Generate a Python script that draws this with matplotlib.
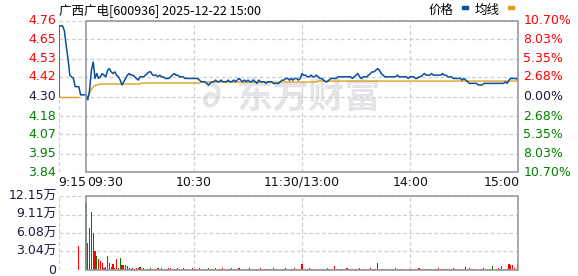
import matplotlib
matplotlib.use("Agg")
import matplotlib.pyplot as plt
from matplotlib.patches import Rectangle

plt.rcParams['font.family'] = ['DejaVu Sans', 'Noto Sans CJK SC']

# ---- data ----
title = "广西广电[600936] 2025-12-22 15:00"
pre_close = 4.30
price_ticks = [4.76, 4.65, 4.53, 4.42, 4.30, 4.18, 4.07, 3.95, 3.84]
pct_labels = ["10.70%", "8.03%", "5.35%", "2.68%", "0.00%", "2.68%", "5.35%", "8.03%", "10.70%"]
vol_ticks = [12.15, 9.11, 6.08, 3.04, 0]
vol_labels = ["12.15万", "9.11万", "6.08万", "3.04万", "0"]
time_labels = ["9:15", "09:30", "10:30", "11:30/13:00", "14:00", "15:00"]

# call auction 9:15-9:30 (minutes before open, negative)
auction_t = [-15, -15, -14, -13, -12, -11, -10, -9, -8, -7, -6, -5, -4, -3, -2, -1, 0]
auction_p = [4.30, 4.73, 4.73, 4.73, 4.70, 4.61, 4.53, 4.43, 4.42, 4.41, 4.36, 4.36, 4.36,
             4.31, 4.31, 4.31, 4.31]
auction_avg_t = [-15, -4.5]
auction_avg_p = [4.30, 4.30]
auction_vol_t = [-4.3]
auction_vol = [3.94]

# trading minutes 0..240 (9:30-11:30, 13:00-15:00)
price = [
    4.31, 4.28, 4.34, 4.46, 4.51, 4.41, 4.44, 4.41, 4.42, 4.44,
    4.43, 4.42, 4.46, 4.47, 4.45, 4.44, 4.45, 4.43, 4.42, 4.40,
    4.37, 4.39, 4.41, 4.43, 4.44, 4.43, 4.43, 4.42, 4.41, 4.40,
    4.42, 4.42, 4.42, 4.43, 4.44, 4.45, 4.45, 4.43, 4.43, 4.43,
    4.42, 4.43, 4.42, 4.42, 4.41, 4.41, 4.41, 4.42, 4.43, 4.44,
    4.43, 4.43, 4.42, 4.42, 4.42, 4.41, 4.41, 4.41, 4.41, 4.41,
    4.41, 4.41, 4.41, 4.40, 4.39, 4.39, 4.39, 4.38, 4.37, 4.38,
    4.39, 4.39, 4.40, 4.39, 4.39, 4.40, 4.39, 4.39, 4.39, 4.40,
    4.39, 4.39, 4.40, 4.39, 4.40, 4.41, 4.40, 4.39, 4.40, 4.39,
    4.40, 4.39, 4.39, 4.40, 4.39, 4.38, 4.40, 4.39, 4.39, 4.39,
    4.38, 4.39, 4.39, 4.39, 4.38, 4.38, 4.38, 4.38, 4.39, 4.40,
    4.40, 4.41, 4.41, 4.40, 4.41, 4.40, 4.41, 4.41, 4.40, 4.41,
    4.44, 4.43, 4.43, 4.42, 4.42, 4.43, 4.42, 4.42, 4.43, 4.42,
    4.41, 4.41, 4.40, 4.39, 4.39, 4.40, 4.41, 4.41, 4.41, 4.41,
    4.42, 4.42, 4.42, 4.42, 4.42, 4.42, 4.42, 4.42, 4.41, 4.42,
    4.43, 4.44, 4.42, 4.41, 4.42, 4.42, 4.42, 4.43, 4.44, 4.45,
    4.45, 4.46, 4.47, 4.46, 4.44, 4.43, 4.42, 4.42, 4.42, 4.42,
    4.42, 4.42, 4.42, 4.43, 4.42, 4.42, 4.42, 4.42, 4.42, 4.41,
    4.42, 4.42, 4.42, 4.41, 4.41, 4.42, 4.42, 4.43, 4.44, 4.43,
    4.43, 4.43, 4.44, 4.43, 4.43, 4.43, 4.43, 4.43, 4.44, 4.43,
    4.43, 4.42, 4.42, 4.42, 4.41, 4.41, 4.41, 4.41, 4.41, 4.40,
    4.41, 4.40, 4.39, 4.38, 4.38, 4.38, 4.38, 4.38, 4.37, 4.37,
    4.37, 4.38, 4.38, 4.38, 4.38, 4.38, 4.38, 4.38, 4.38, 4.38,
    4.38, 4.38, 4.38, 4.39, 4.38, 4.40, 4.41, 4.41, 4.41, 4.41,
    4.40,
]

avg_price = [
    4.285, 4.290, 4.320, 4.345, 4.360, 4.367, 4.370, 4.373, 4.375, 4.376,
    4.376, 4.376, 4.376, 4.376, 4.376, 4.376, 4.376, 4.376, 4.376, 4.376,
    4.376, 4.376, 4.376, 4.376, 4.376, 4.376, 4.376, 4.376, 4.376, 4.376,
    4.377, 4.382, 4.382, 4.382, 4.382, 4.382, 4.382, 4.382, 4.382, 4.382,
    4.382, 4.382, 4.382, 4.382, 4.382, 4.382, 4.382, 4.382, 4.382, 4.382,
    4.382, 4.382, 4.382, 4.382, 4.382, 4.382, 4.382, 4.382, 4.382, 4.382,
    4.382, 4.382, 4.382, 4.382, 4.388, 4.388, 4.388, 4.388, 4.388, 4.388,
    4.388, 4.388, 4.388, 4.388, 4.388, 4.388, 4.388, 4.388, 4.388, 4.388,
    4.388, 4.388, 4.388, 4.388, 4.388, 4.388, 4.388, 4.388, 4.388, 4.388,
    4.388, 4.388, 4.388, 4.388, 4.388, 4.388, 4.388, 4.388, 4.388, 4.388,
    4.388, 4.388, 4.388, 4.388, 4.388, 4.388, 4.388, 4.388, 4.388, 4.388,
    4.388, 4.388, 4.388, 4.388, 4.388, 4.388, 4.388, 4.388, 4.388, 4.388,
    4.388, 4.388, 4.388, 4.388, 4.388, 4.388, 4.388, 4.388, 4.388, 4.394,
    4.394, 4.394, 4.394, 4.394, 4.394, 4.394, 4.394, 4.394, 4.394, 4.394,
    4.394, 4.394, 4.394, 4.394, 4.394, 4.394, 4.394, 4.394, 4.394, 4.394,
    4.394, 4.394, 4.394, 4.394, 4.394, 4.394, 4.394, 4.394, 4.394, 4.394,
    4.394, 4.394, 4.394, 4.394, 4.394, 4.394, 4.394, 4.394, 4.394, 4.394,
    4.394, 4.394, 4.394, 4.394, 4.394, 4.394, 4.394, 4.394, 4.394, 4.394,
    4.394, 4.394, 4.394, 4.394, 4.394, 4.394, 4.394, 4.394, 4.394, 4.394,
    4.394, 4.394, 4.394, 4.394, 4.394, 4.394, 4.394, 4.394, 4.394, 4.394,
    4.394, 4.394, 4.394, 4.394, 4.394, 4.394, 4.394, 4.394, 4.394, 4.394,
    4.394, 4.394, 4.394, 4.394, 4.394, 4.394, 4.394, 4.394, 4.394, 4.394,
    4.394, 4.394, 4.394, 4.394, 4.394, 4.394, 4.394, 4.394, 4.394, 4.394,
    4.394, 4.394, 4.394, 4.394, 4.394, 4.394, 4.394, 4.394, 4.394, 4.394,
    4.394,
]

# volume in 万 shares per minute
volume = [
    11.2, 4.5, 6.9, 9.5, 6.1, 3.1, 2.3, 1.8, 1.5, 1.1,
    0.30, 0.45, 2.3, 1.1, 0.55, 1.0, 0.30, 1.8, 0.30, 1.9,
    0.80, 0.90, 0.75, 0.65, 0.25, 0.20, 0.25, 0.20, 0.25, 0.30,
    0.44, 0.20, 0.25, 0.20, 0.15, 0.20, 0.25, 0.20, 0.15, 0.20,
    0.30, 0.20, 0.25, 0.15, 0.20, 0.20, 0.25, 0.30, 0.20, 0.15,
    0.20, 0.25, 0.20, 0.15, 0.30, 0.20, 0.20, 0.15, 0.20, 0.25,
    0.20, 0.15, 0.20, 0.25, 0.20, 0.15, 0.20, 0.20, 0.25, 0.20,
    0.15, 0.20, 0.30, 0.20, 0.15, 0.20, 0.25, 0.20, 0.15, 0.20,
    0.20, 0.25, 0.15, 0.20, 0.20, 0.25, 0.15, 0.20, 0.20, 0.15,
    0.20, 0.25, 0.20, 0.15, 0.20, 0.20, 0.15, 0.25, 0.20, 0.15,
    0.20, 0.20, 0.15, 0.20, 0.25, 0.20, 0.15, 0.20, 0.20, 0.15,
    0.20, 0.25, 0.20, 0.15, 0.20, 0.20, 0.25, 0.20, 0.15, 0.20,
    1.00, 0.20, 0.15, 0.20, 0.25, 0.20, 0.15, 0.20, 0.20, 0.15,
    0.20, 0.20, 0.15, 0.20, 0.25, 0.20, 0.15, 0.20, 0.65, 0.20,
    0.15, 0.20, 0.20, 0.15, 0.20, 0.25, 0.20, 0.15, 0.20, 0.20,
    0.15, 0.20, 0.33, 0.20, 0.15, 0.20, 0.20, 0.15, 0.25, 0.20,
    0.15, 0.20, 1.15, 0.20, 0.15, 0.20, 0.20, 0.15, 0.20, 0.20,
    0.15, 0.20, 0.25, 0.20, 0.15, 0.20, 0.20, 0.15, 0.20, 0.20,
    0.15, 0.20, 0.20, 0.15, 0.20, 0.25, 0.20, 0.15, 0.20, 0.20,
    0.15, 0.20, 0.20, 0.15, 0.20, 0.20, 0.25, 0.20, 0.15, 0.20,
    0.20, 0.15, 0.20, 0.20, 0.25, 0.20, 0.15, 0.20, 0.20, 0.15,
    0.20, 0.45, 0.20, 0.40, 0.20, 0.15, 0.20, 0.20, 0.15, 0.20,
    0.20, 0.33, 0.20, 0.15, 0.20, 0.20, 0.65, 0.20, 0.15, 0.35,
    0.20, 0.65, 0.20, 0.15, 0.20, 1.00, 0.75, 0.80, 0.30, 0.20,
    1.20,
]
# r = up minute, g = down minute
vol_color = (
    "grrrgrgrrr" "rgrggrrrrg"
    "rrrgrrrgrr" "rrgrrrgrrr"
    "rrrgrrrrrg" "rrrrgrrrrr"
    "rrgrrrrrgr" "rrrrrgrrrr"
    "grrrrrgrrr" "rrrrgrrrrr"
    "rgrrrrrrgr" "rrrrgrrrrr"
    "rrrrrgrrrr" "rrgrrrrgrr"
    "rrrrrrgrrr" "rrgrrrrrrr"
    "rrrrrrrgrr" "rrrgrrrrrr"
    "rrgrrrrgrr" "rrrrrrrgrr"
    "rrrgrrrrrr" "rrrrgrrrrr"
    "rrrrrrgrrr" "rrgrrrrrrr"
    "g"
)

# ---- style ----
blue = '#0a4f9c'
gold = '#e0a020'
red = '#ff0000'
green = '#008000'
grid_c = '#cfcfcf'
box_c = '#999999'
dash = (0, (3, 2))

fig = plt.figure(figsize=(5.78, 2.76), dpi=100)
W, H = 578.0, 276.0
x0, x1 = 59, 518
ax = fig.add_axes([x0 / W, 1 - 172 / H, (x1 - x0) / W, 151 / H])
axv = fig.add_axes([x0 / W, 1 - 270 / H, (x1 - x0) / W, 74 / H])

for a in (ax, axv):
    a.set_xlim(-15, 240)
    a.set_xticks([])
    a.set_yticks([])
    for s in a.spines.values():
        s.set_visible(False)

ax.set_ylim(price_ticks[-1], price_ticks[0])
axv.set_ylim(0, vol_ticks[0])


def frame(a, levels, lo, hi):
    for lv in levels:
        a.plot([-15, 240], [lv, lv], color=grid_c, lw=0.9, ls=dash, zorder=1)
    for t in (-15, 60, 120, 180):
        a.plot([t, t], [lo, hi], color=grid_c, lw=0.9, ls=dash, zorder=1)
    a.add_patch(Rectangle((0, lo), 240, hi - lo, fill=False, edgecolor=box_c,
                          lw=1.2, zorder=5, clip_on=False))


frame(ax, price_ticks, price_ticks[-1], price_ticks[0])
frame(axv, vol_ticks, 0, vol_ticks[0])

# watermark
ax.text(124, 4.295, "东方财富", fontsize=26, fontweight='bold', color='#e4e4e8',
        family=['Noto Sans CJK SC'], ha='center', va='center', zorder=0)
ax.text(70, 4.30, "∂", fontsize=26, fontweight='bold', fontstyle='italic',
        color='#e4e4e8', ha='center', va='center', zorder=0)

# lines
minutes = list(range(len(price)))
ax.plot(auction_avg_t, auction_avg_p, color=gold, lw=1.0, zorder=3)
ax.plot(minutes, avg_price, color=gold, lw=1.0, zorder=3)
ax.plot(auction_t, auction_p, color=blue, lw=1.1, zorder=4)
ax.plot(minutes, price, color=blue, lw=1.1, zorder=4)

# volume bars
cols = [red if c == 'r' else green for c in vol_color]
axv.bar(auction_vol_t, auction_vol, width=0.6, color=red, zorder=3)
axv.bar(minutes, volume, width=0.6, color=cols, zorder=3)

# price axis labels
fs = 9
for i, (v, lab) in enumerate(zip(price_ticks, pct_labels)):
    if v > pre_close + 0.001:
        c = red
    elif v < pre_close - 0.001:
        c = green
    else:
        c = '#1a1a40'
    ax.text(-16.5, v, f"{v:.2f}", color=c, fontsize=fs, ha='right', va='center')
    ax.text(243, v, lab, color=c, fontsize=fs, ha='left', va='center')

for v, lab in zip(vol_ticks, vol_labels):
    axv.text(-16.5, v, lab, color='#1a1a40', fontsize=fs, ha='right', va='center',
             family=['DejaVu Sans', 'Noto Sans CJK SC'])

# time labels
ty = 1 - 182 / H
tx = [(58, 'left'), (87, 'left'), (194, 'center'), (302, 'center'), (411, 'center'), (520, 'right')]
for (px, ha), lab in zip(tx, time_labels):
    fig.text(px / W, ty, lab, fontsize=fs, ha=ha, va='center', color='#111111')

# title and legend
fig.text(59 / W, 1 - 10 / H, title, fontsize=fs, ha='left', va='center',
         family=['Noto Sans CJK SC', 'DejaVu Sans'])
fig.text(454 / W, 1 - 10 / H, "价格", fontsize=fs, ha='right', va='center',
         family=['Noto Sans CJK SC'])
fig.patches.append(Rectangle((462 / W, 1 - 9 / H), 6 / W, 3 / H, color=blue,
                             transform=fig.transFigure))
fig.text(500 / W, 1 - 10 / H, "均线", fontsize=fs, ha='right', va='center',
         family=['Noto Sans CJK SC'])
fig.patches.append(Rectangle((508 / W, 1 - 9 / H), 6 / W, 3 / H, color=gold,
                             transform=fig.transFigure))

fig.savefig("out.png", dpi=100)
